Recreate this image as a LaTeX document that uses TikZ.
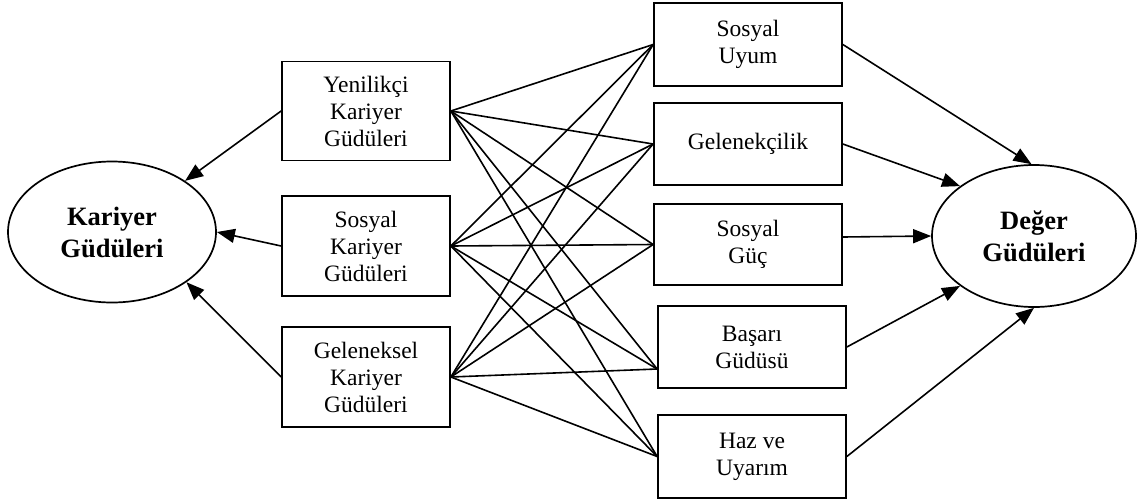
\documentclass[tikz,border=0pt]{standalone}
\usepackage{fontspec}
\setmainfont{Liberation Serif}
\usetikzlibrary{arrows.meta,shapes.geometric}
\begin{document}
\begin{tikzpicture}[x=1pt,y=-1pt,
  box/.style={draw,line width=1.7pt,inner sep=0pt,align=center,font=\fontsize{23.5}{27}\selectfont},
  lbox/.style={box,minimum width=168pt,minimum height=99pt},
  rbox/.style={box,minimum width=188pt,minimum height=82pt},
  ell/.style={draw,ellipse,line width=1.7pt,inner sep=0pt,align=center,font=\fontsize{26.5}{32}\selectfont\bfseries},
  link/.style={line width=1.6pt},
  arr/.style={line width=1.6pt,-{Triangle[length=18pt,width=14pt]}}]
\useasboundingbox (0,0) rectangle (1137,501);
% left ellipse
\node[ell,minimum width=208pt,minimum height=141pt] (kg) at (112,232) {Kariyer\\Güdüleri};
% right ellipse
\node[ell,minimum width=204pt,minimum height=142pt] (dg) at (1034,236) {Değer\\Güdüleri};
% left boxes
\node[lbox] (b1) at (366,111) {Yenilikçi\\Kariyer\\Güdüleri};
\node[lbox,minimum height=100pt] (b2) at (366,246) {Sosyal\\Kariyer\\Güdüleri};
\node[lbox,minimum height=100pt] (b3) at (366,377) {Geleneksel\\Kariyer\\Güdüleri};
% right boxes
\node[rbox,minimum height=83pt] (su) at (748,44.5) {Sosyal\\Uyum};
\node[rbox] (gl) at (748,144) {Gelenekçilik};
\node[rbox,minimum height=81pt] (sg) at (748,244.5) {Sosyal\\Güç};
\node[rbox] (ba) at (752,347) {Başarı\\Güdüsü};
\node[rbox,minimum height=83pt] (hz) at (752,456.5) {Haz ve\\Uyarım};
\coordinate (ba-in) at ([yshift=-22pt]ba.west);
\coordinate (sg-out) at ([yshift=7.5pt]sg.east);
% bipartite links
\foreach \l in {b1,b2,b3}{
  \foreach \r in {su.west,gl.west,sg.west,ba-in,hz.west}{
    \draw[link] (\l.east) -- (\r);
  }
}
% arrows to left ellipse
\draw[arr] (b1.west) -- (kg.35);
\draw[arr] (b2.west) -- (kg.0);
\draw[arr] (b3.west) -- (kg.-34);
% arrows to right ellipse
\draw[arr] (su.east) -- (dg.92);
\draw[arr] (gl.east) -- (dg.146);
\draw[arr] (sg-out) -- (dg.west);
\draw[arr] (ba.east) -- (dg.214);
\draw[arr] (hz.east) -- (dg.south);
\end{tikzpicture}
\end{document}
